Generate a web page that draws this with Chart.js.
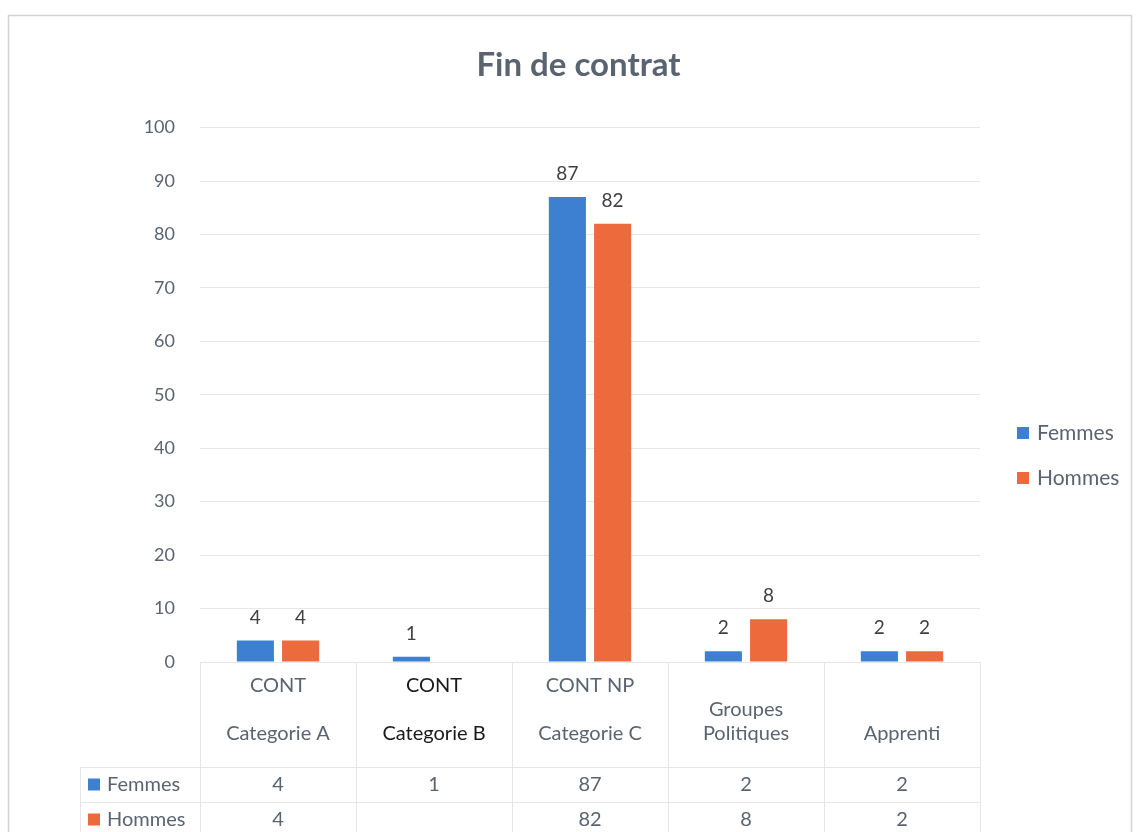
<!DOCTYPE html>
<html>
<head>
<meta charset="utf-8">
<script src="https://cdn.jsdelivr.net/npm/chart.js@4"></script>
<style>
  html, body { margin: 0; padding: 0; background: #fff; }
  #wrap { width: 1137px; height: 832px; }
</style>
</head>
<body>
<div id="wrap"><canvas id="chart"></canvas></div>
<script>
const categoryLabels = [
  ["CONT", "", "Categorie A"],
  ["CONT", "", "Categorie B"],
  ["CONT NP", "", "Categorie C"],
  ["", "Groupes", "Politiques"],
  ["", "", "Apprenti"],
];
const seriesNames = ["Femmes", "Hommes"];
const femmes = [4, 1, 87, 2, 2];
const hommes = [4, null, 82, 8, 2];
const seriesColors = ["#3d80d1", "#ec6a3b"];

const textColor = "#5a6470";
const gridColor = "#e6e6e6";
const fontFamily = "Lato, 'Open Sans', sans-serif";

// étiquettes de valeur, légende à droite et tableau de données sous l'axe
const extras = {
  id: "extras",
  beforeDraw(chart) {
    const { ctx } = chart;
    ctx.save();
    ctx.fillStyle = "#fff";
    ctx.fillRect(0, 0, chart.width, chart.height);
    ctx.strokeStyle = "#d4d4d4";
    ctx.lineWidth = 1.5;
    ctx.strokeRect(8.5, 15.5, 1123, 840);
    ctx.restore();
  },
  afterDatasetsDraw(chart) {
    const { ctx } = chart;
    ctx.save();
    ctx.font = `19px ${fontFamily}`;
    ctx.fillStyle = "#404040";
    ctx.textAlign = "center";
    ctx.textBaseline = "middle";
    chart.data.datasets.forEach((ds, di) => {
      chart.getDatasetMeta(di).data.forEach((bar, i) => {
        if (ds.data[i] == null) return;
        ctx.fillText(String(ds.data[i]), bar.x, bar.y - 23);
      });
    });
    ctx.restore();
  },
  afterDraw(chart) {
    const { ctx, chartArea, scales } = chart;
    const x = scales.x;
    const n = categoryLabels.length;
    const step = x.getPixelForValue(1) - x.getPixelForValue(0);
    ctx.save();

    // lignes du tableau
    ctx.strokeStyle = gridColor;
    ctx.lineWidth = 1;
    for (let i = 0; i <= n; i++) {
      const px = Math.round(x.getPixelForValue(i) - step / 2) + 0.5;
      ctx.beginPath();
      ctx.moveTo(px, chartArea.bottom);
      ctx.lineTo(px, chart.height);
      ctx.stroke();
    }
    const rowTop = 767;
    const rowH = 35;
    [rowTop, rowTop + rowH].forEach((y) => {
      ctx.beginPath();
      ctx.moveTo(80, y + 0.5);
      ctx.lineTo(chartArea.right, y + 0.5);
      ctx.stroke();
    });
    ctx.beginPath();
    ctx.moveTo(80.5, rowTop);
    ctx.lineTo(80.5, chart.height);
    ctx.stroke();

    // lignes de valeurs
    const rows = [femmes, hommes];
    ctx.font = `20px ${fontFamily}`;
    ctx.textBaseline = "middle";
    rows.forEach((values, r) => {
      const cy = rowTop + rowH / 2 + r * rowH;
      ctx.fillStyle = seriesColors[r];
      ctx.fillRect(88, cy - 6, 12, 12);
      ctx.fillStyle = textColor;
      ctx.textAlign = "left";
      ctx.fillText(seriesNames[r], 107, cy);
      ctx.textAlign = "center";
      values.forEach((v, i) => {
        if (v == null) return;
        ctx.fillText(String(v), x.getPixelForValue(i), cy);
      });
    });

    // légende
    const legendY = [433, 478];
    ctx.font = `21px ${fontFamily}`;
    seriesNames.forEach((name, r) => {
      ctx.fillStyle = seriesColors[r];
      ctx.fillRect(1017, legendY[r] - 6, 12, 12);
      ctx.fillStyle = textColor;
      ctx.textAlign = "left";
      ctx.fillText(name, 1037, legendY[r]);
    });
    ctx.restore();
  },
};

new Chart(document.querySelector("#chart"), {
  type: "bar",
  data: {
    labels: categoryLabels,
    datasets: [
      { label: seriesNames[0], data: femmes, backgroundColor: seriesColors[0] },
      { label: seriesNames[1], data: hommes, backgroundColor: seriesColors[1] },
    ].map((ds) => ({ ...ds, categoryPercentage: 0.58, barPercentage: 0.82 })),
  },
  options: {
    responsive: true,
    maintainAspectRatio: false,
    animation: false,
    layout: { padding: { top: 0, right: 0, bottom: 65, left: 20 } },
    plugins: {
      legend: { display: false },
      tooltip: { enabled: false },
      title: {
        display: true,
        text: "Fin de contrat",
        color: textColor,
        font: { family: fontFamily, size: 33, weight: "bold" },
        padding: { top: 46, bottom: 42 },
      },
    },
    scales: {
      x: {
        grid: { display: false },
        border: { color: gridColor },
        ticks: {
          padding: 4,
          maxRotation: 0,
          autoSkip: false,
          font: { family: fontFamily, size: 20, lineHeight: "24px" },
          color: (c) => (c.index === 1 ? "#1a1a1a" : textColor),
        },
        afterFit: (s) => { s.height = 105; },
      },
      y: {
        min: 0,
        max: 100,
        ticks: {
          stepSize: 10,
          padding: 25,
          font: { family: fontFamily, size: 18 },
          color: textColor,
        },
        grid: { color: gridColor, drawTicks: false },
        border: { display: false },
        afterFit: (s) => { s.width = 180; },
      },
      // espace réservé à la légende, à droite de la zone de tracé
      legendSpace: {
        position: "right",
        ticks: { display: false },
        grid: { display: false },
        border: { display: false },
        afterFit: (s) => { s.width = 157; },
      },
    },
  },
  plugins: [extras],
});
</script>
</body>
</html>
